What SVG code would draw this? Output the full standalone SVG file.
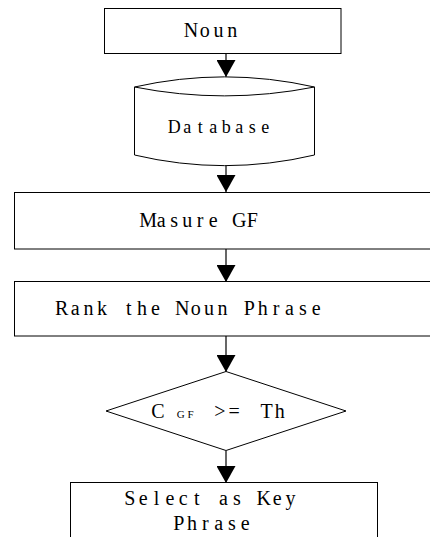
<svg xmlns="http://www.w3.org/2000/svg" width="430" height="537" viewBox="0 0 430 537">
<style>
.shape{fill:#fff;stroke:#000;stroke-width:1}
.lbl{font-family:"Liberation Serif","Times New Roman",serif;font-size:20px;fill:#000;text-anchor:middle}
.conn{stroke:#000;stroke-width:1.2;fill:none;marker-end:url(#ah)}
</style>
<defs>
<marker id="ah" viewBox="0 0 17 19" markerWidth="17" markerHeight="19" refX="17" refY="9.5" orient="auto" markerUnits="userSpaceOnUse">
<path d="M0,0 L17,9.5 L0,19 Z" fill="#000"/>
</marker>
</defs>
<rect width="430" height="537" fill="#fff"/>
<g id="connectors">
<line class="conn" x1="226" y1="53.5" x2="226" y2="77"/>
<line class="conn" x1="226" y1="166" x2="226" y2="192"/>
<line class="conn" x1="226" y1="249" x2="226" y2="282"/>
<line class="conn" x1="226" y1="336" x2="226" y2="372"/>
<line class="conn" x1="226" y1="451" x2="226" y2="483"/>
</g>
<g id="node-noun">
<rect class="shape" x="104.5" y="8.5" width="236.5" height="45"/>
<text class="lbl" y="36.5" x="191.1 204.8 218.5 232.2">Noun</text>
</g>
<g id="node-database">
<path class="shape" d="M134.5,87 A410,410 0 0 1 314.5,87 L314.5,155 A391,391 0 0 1 134.5,155 Z"/>
<path class="shape" fill="none" d="M134.5,87 A465,465 0 0 0 314.5,87"/>
<text class="lbl" style="font-size:18px" y="133" x="174.2 187.2 200.2 213.2 226.2 239.2 252.2 265.2">Database</text>
</g>
<g id="node-measure">
<rect class="shape" x="14.5" y="192.5" width="430" height="56.5"/>
<text class="lbl" y="226.7" x="148.2 161.2 174.2 187.2 200.2 213.2 226.2 239.2 252.2">Masure GF</text>
</g>
<g id="node-rank">
<rect class="shape" x="14.5" y="281.5" width="430" height="54.5"/>
<text class="lbl" y="315" x="61.7 75.1 88.5 101.9 115.3 128.7 142.1 155.5 168.9 182.3 195.7 209.1 222.5 235.9 249.3 262.7 276.1 289.5 302.9 316.3">Rank the Noun Phrase</text>
</g>
<g id="node-decision">
<polygon class="shape" points="226,371.5 346,411 226,450.5 106,411"/>
<text class="lbl" y="417.5"><tspan x="157.9 169">C </tspan><tspan style="font-size:11px" x="180.8 190.5">GF</tspan><tspan x="205 220 234.2 250 266.7 279.7"> &gt;= Th</tspan></text>
</g>
<g id="node-select">
<rect class="shape" x="70.5" y="482.5" width="307" height="60"/>
<text class="lbl" y="505" x="129.7 143.1 156.5 169.9 183.3 196.7 210.1 223.5 236.9 250.3 263.7 277.1 290.5">Select as Key</text>
<text class="lbl" y="530" x="178.7 192 205.3 218.6 231.9 245.2">Phrase</text>
</g>
</svg>
